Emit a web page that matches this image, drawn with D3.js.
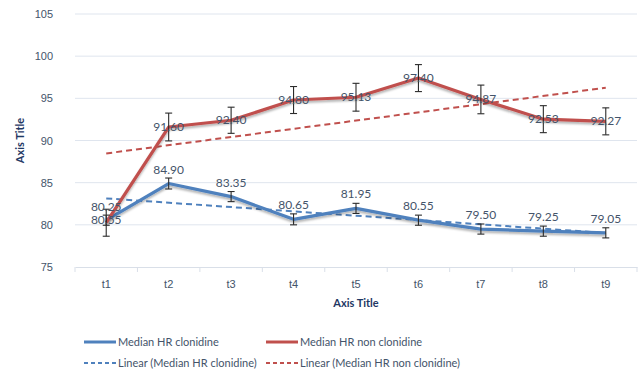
<!DOCTYPE html>
<html>
<head>
<meta charset="utf-8">
<script src="https://cdn.jsdelivr.net/npm/d3@7"></script>
<style>
  body { margin: 0; background: #fff; }
  svg { font-family: Lato, "Open Sans", sans-serif; }
</style>
</head>
<body>
<svg id="chart" width="642" height="374"></svg>
<script>
var categories = ["t1", "t2", "t3", "t4", "t5", "t6", "t7", "t8", "t9"];
var clonidine = [80.55, 84.90, 83.35, 80.65, 81.95, 80.55, 79.50, 79.25, 79.05];
var clonidineErr = [0.6, 0.65, 0.6, 0.65, 0.6, 0.6, 0.6, 0.6, 0.6];
var nonClonidine = [80.25, 91.60, 92.40, 94.80, 95.13, 97.40, 94.87, 92.53, 92.27];
var nonClonidineErr = [1.6, 1.65, 1.55, 1.6, 1.65, 1.6, 1.7, 1.6, 1.6];
var yTicks = [75, 80, 85, 90, 95, 100, 105];

var blue = "#4f81bd", red = "#c0504d", textCol = "#44546a", titleCol = "#1f3864";

var svg = d3.select("#chart");
var margin = {left: 75, right: 5, top: 14, bottom: 107};
var width = 642 - margin.left - margin.right,
    height = 374 - margin.top - margin.bottom;

var x = d3.scaleBand().domain(categories).range([margin.left, margin.left + width]);
var y = d3.scaleLinear().domain([75, 105]).range([margin.top + height, margin.top]);

// shadow for the main lines
var defs = svg.append("defs");
var f = defs.append("filter").attr("id", "shadow").attr("x", "-5%").attr("y", "-20%")
    .attr("width", "110%").attr("height", "160%");
f.append("feDropShadow").attr("dx", 0).attr("dy", 2).attr("stdDeviation", 1.2)
    .attr("flood-color", "#000").attr("flood-opacity", 0.3);

// gridlines
svg.append("g").selectAll("line").data(yTicks.slice(1)).enter().append("line")
    .attr("x1", margin.left).attr("x2", margin.left + width)
    .attr("y1", function(d) { return y(d); }).attr("y2", function(d) { return y(d); })
    .attr("stroke", "#dfe5ee").attr("stroke-width", 1);

// y axis labels
var yAxis = d3.axisLeft(y).tickValues(yTicks).tickSize(0).tickPadding(22);
var gy = svg.append("g").attr("transform", "translate(" + margin.left + ",0)").call(yAxis);
gy.select(".domain").remove();
gy.selectAll("text").attr("fill", textCol).style("font-size", "11px");

// x axis
var xAxis = d3.axisBottom(x).tickSize(0).tickPadding(13);
var gx = svg.append("g").attr("transform", "translate(0," + (margin.top + height) + ")").call(xAxis);
gx.select(".domain").attr("stroke", "#d9dfe8");
gx.selectAll("text").attr("fill", textCol).style("font-size", "11px");
gx.selectAll(".sep").data(d3.range(categories.length + 1)).enter().append("line")
    .attr("x1", function(i) { return margin.left + i * x.bandwidth(); })
    .attr("x2", function(i) { return margin.left + i * x.bandwidth(); })
    .attr("y1", 0).attr("y2", 5).attr("stroke", "#d9dfe8");

// axis titles
svg.append("text").attr("x", margin.left + width / 2).attr("y", 307)
    .attr("text-anchor", "middle").attr("fill", titleCol)
    .style("font-size", "11px").style("font-weight", "bold").text("Axis Title");
svg.append("text").attr("transform", "translate(24," + (margin.top + height / 2) + ") rotate(-90)")
    .attr("text-anchor", "middle").attr("fill", titleCol)
    .style("font-size", "11px").style("font-weight", "bold").text("Axis Title");

function cx(i) { return x(categories[i]) + x.bandwidth() / 2; }

function trend(vals) {
  var n = vals.length, mx = d3.mean(vals, function(d, i) { return i; }), my = d3.mean(vals);
  var sxy = 0, sxx = 0;
  vals.forEach(function(v, i) { sxy += (i - mx) * (v - my); sxx += (i - mx) * (i - mx); });
  var b = sxy / sxx, a = my - b * mx;
  return [[0, a], [n - 1, a + b * (n - 1)]];
}

var line = d3.line().x(function(d, i) { return cx(i); }).y(function(d) { return y(d); });
var tline = d3.line().x(function(d) { return cx(d[0]); }).y(function(d) { return y(d[1]); });

// trend lines
[[clonidine, blue], [nonClonidine, red]].forEach(function(s) {
  svg.append("path").attr("d", tline(trend(s[0]))).attr("fill", "none")
    .attr("stroke", s[1]).attr("stroke-width", 2).attr("stroke-dasharray", "6,4");
});

// series lines
[[clonidine, blue], [nonClonidine, red]].forEach(function(s) {
  svg.append("path").attr("d", line(s[0])).attr("fill", "none")
    .attr("stroke", s[1]).attr("stroke-width", 3.2).attr("stroke-linejoin", "round")
    .attr("filter", "url(#shadow)");
});

// error bars
function errorBars(vals, errs) {
  var g = svg.append("g").attr("stroke", "#2b2b2b").attr("stroke-width", 1.1);
  vals.forEach(function(v, i) {
    var x0 = cx(i), y1 = y(v + errs[i]), y2 = y(v - errs[i]);
    g.append("line").attr("x1", x0).attr("x2", x0).attr("y1", y1).attr("y2", y2);
    g.append("line").attr("x1", x0 - 3.5).attr("x2", x0 + 3.5).attr("y1", y1).attr("y2", y1);
    g.append("line").attr("x1", x0 - 3.5).attr("x2", x0 + 3.5).attr("y1", y2).attr("y2", y2);
  });
}
errorBars(clonidine, clonidineErr);
errorBars(nonClonidine, nonClonidineErr);

// data labels
svg.append("g").selectAll("text").data(clonidine).enter().append("text")
    .attr("x", function(d, i) { return cx(i); })
    .attr("y", function(d, i) { return i == 0 ? y(d) + 4 : y(d) - 10; })
    .attr("text-anchor", "middle").attr("fill", textCol).style("font-size", "12px")
    .text(function(d) { return d.toFixed(2); });
svg.append("g").selectAll("text").data(nonClonidine).enter().append("text")
    .attr("x", function(d, i) { return cx(i); })
    .attr("y", function(d, i) { return i == 0 ? y(d) - 12 : y(d) + 4; })
    .attr("text-anchor", "middle").attr("fill", textCol).style("font-size", "12px")
    .text(function(d) { return d.toFixed(2); });

// legend
var legendItems = [
  {label: "Median HR clonidine", color: blue, dash: null, x: 84, y: 342},
  {label: "Median HR non clonidine", color: red, dash: null, x: 266, y: 342},
  {label: "Linear (Median HR clonidine)", color: blue, dash: "4,3", x: 84, y: 363},
  {label: "Linear (Median HR non clonidine)", color: red, dash: "4,3", x: 266, y: 363}
];
var lg = svg.append("g").selectAll("g").data(legendItems).enter().append("g")
    .attr("transform", function(d) { return "translate(" + d.x + "," + d.y + ")"; });
lg.append("line").attr("x1", 0).attr("x2", 32).attr("y1", 0).attr("y2", 0)
    .attr("stroke", function(d) { return d.color; })
    .attr("stroke-width", function(d) { return d.dash ? 1.8 : 3; })
    .attr("stroke-dasharray", function(d) { return d.dash; });
lg.append("text").attr("x", 34).attr("y", 4).attr("fill", textCol)
    .style("font-size", "11px").text(function(d) { return d.label; });
</script>
</body>
</html>
